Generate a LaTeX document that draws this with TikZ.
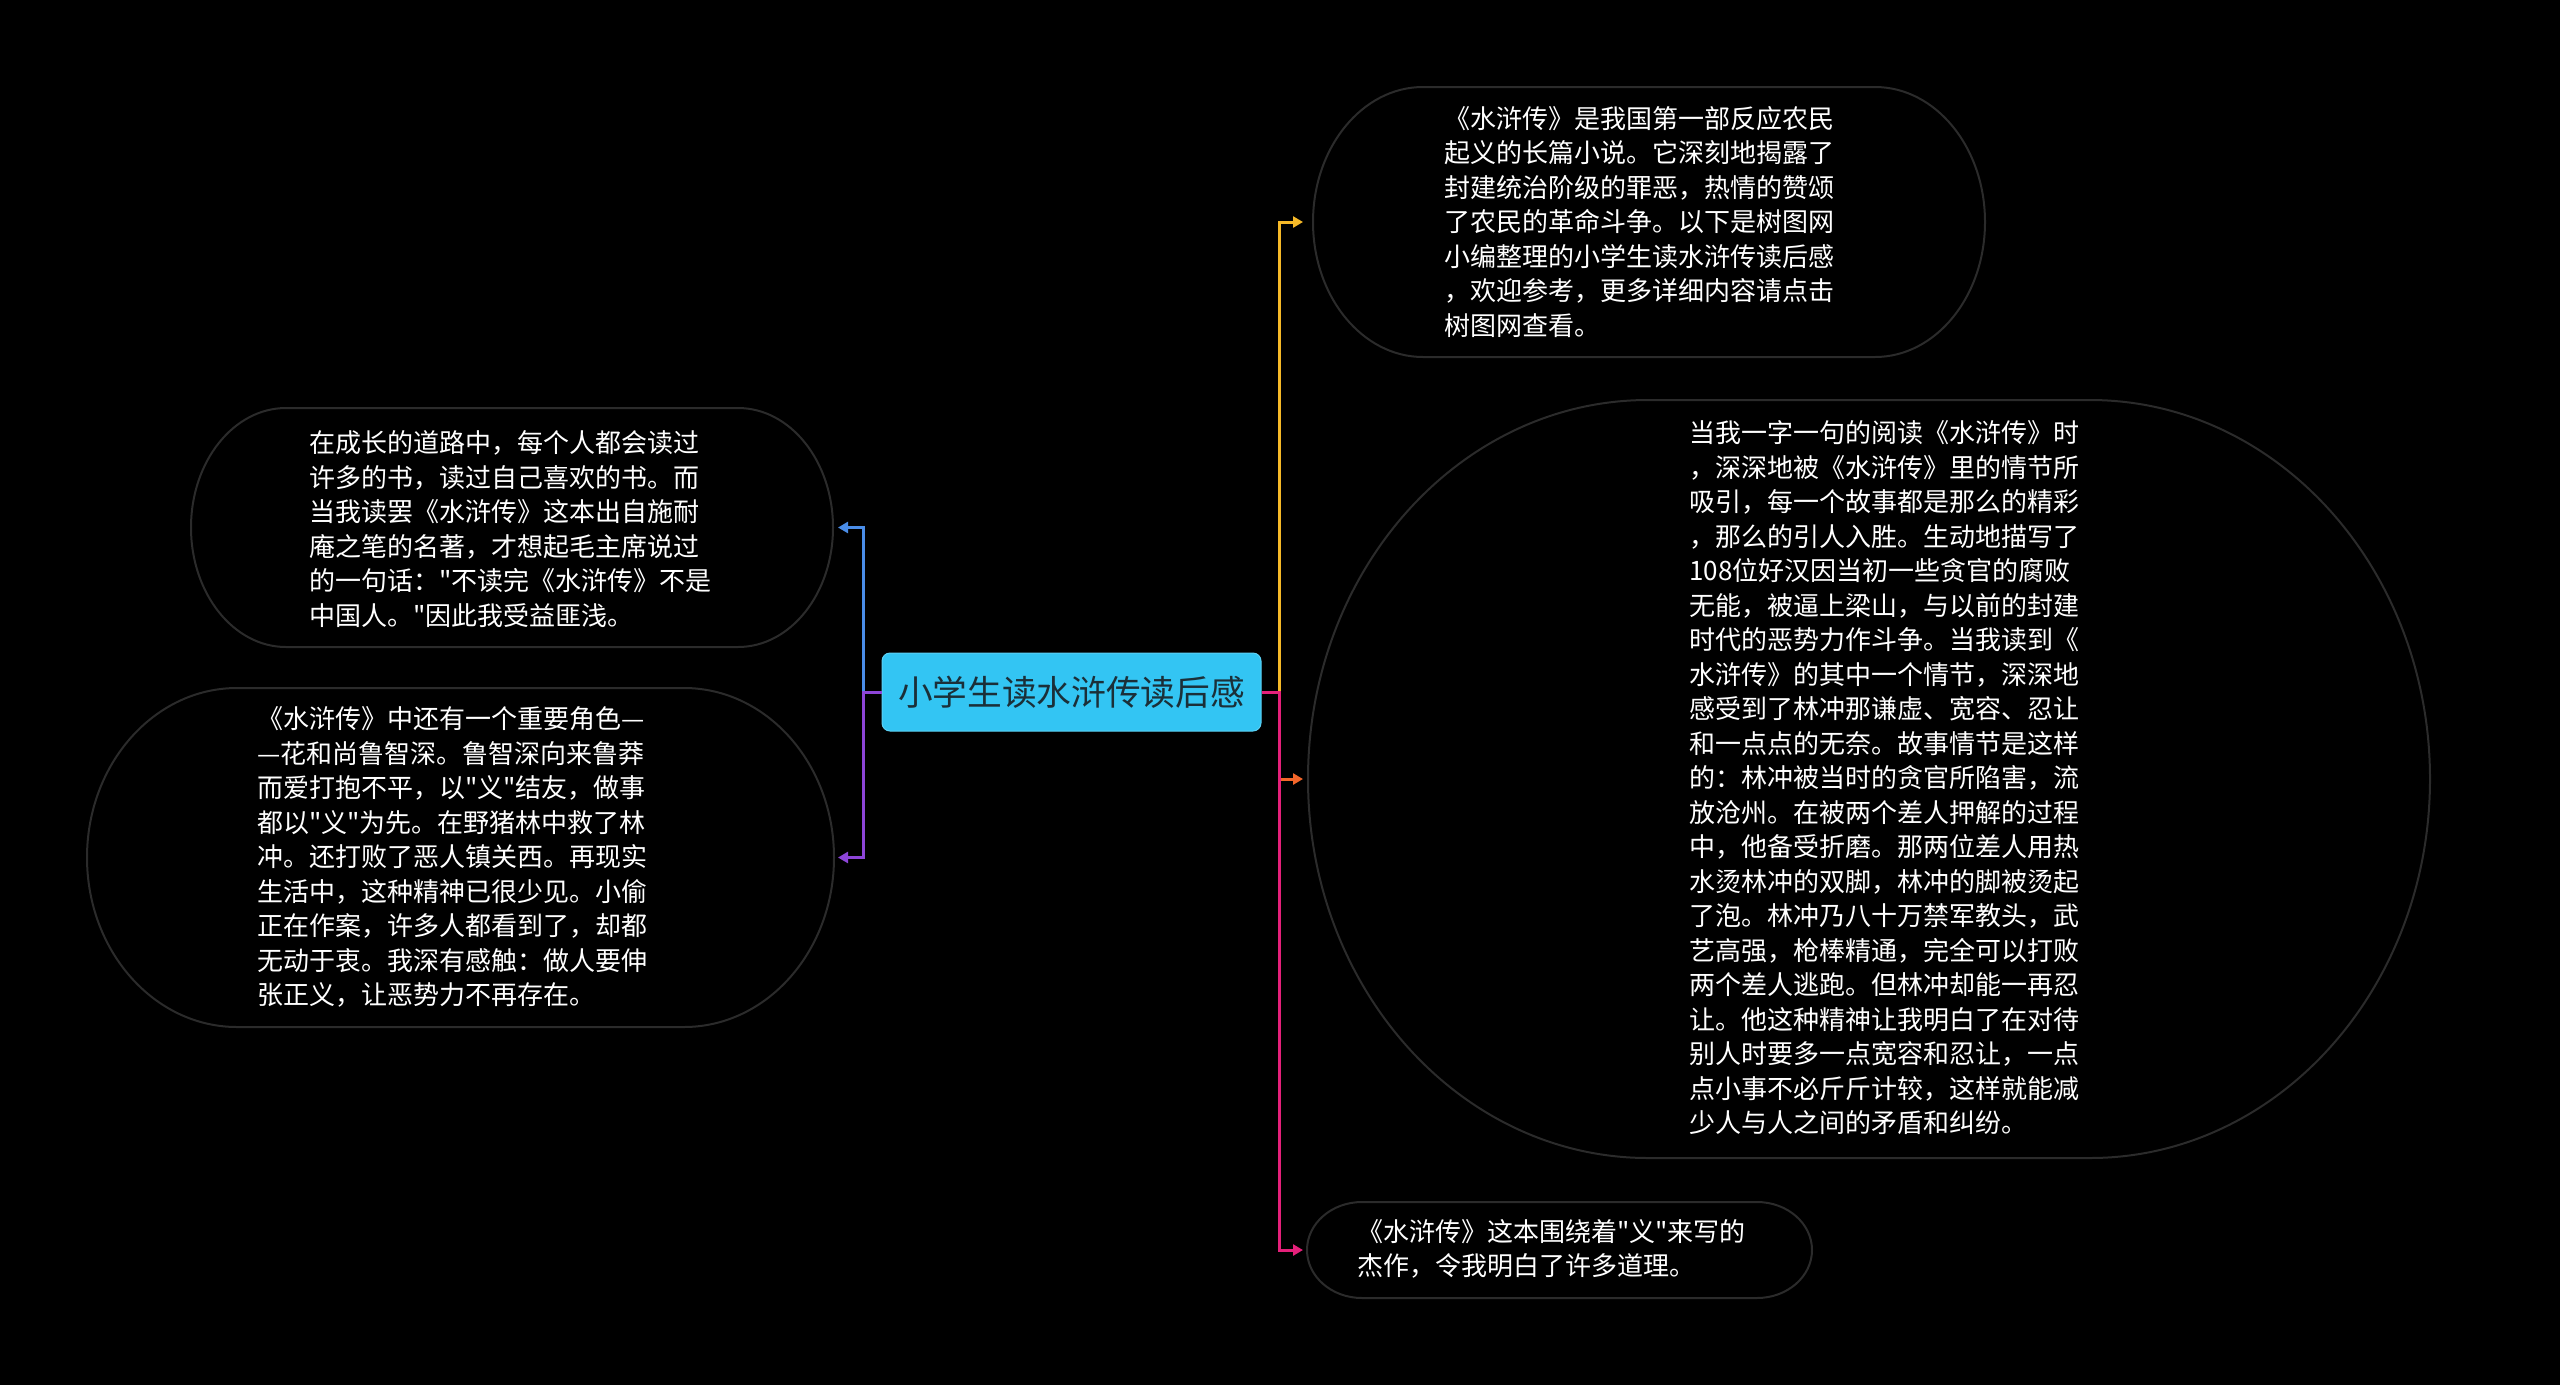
\documentclass[tikz,border=0pt]{standalone}
\usetikzlibrary{arrows.meta}
\font\bodyf="Noto Sans CJK SC" at 26pt
\font\rootf="Noto Sans CJK SC" at 34.7pt
\newcommand\bodyfont{\bodyf\baselineskip=34.5pt\relax}
\newcommand\smallbodyfont{\bodyf\baselineskip=33.5pt\relax}
\definecolor{rootblue}{HTML}{33C5F3}
\definecolor{roottext}{HTML}{1B2F38}
\definecolor{framegray}{HTML}{2B2B2B}
\definecolor{cyel}{HTML}{F6B928}
\definecolor{corange}{HTML}{F3662A}
\definecolor{cpink}{HTML}{E5207A}
\definecolor{cblue}{HTML}{4A8DE8}
\definecolor{cpurple}{HTML}{8D45D8}
\newcommand\ovalframe[3]{%
  \draw[frame] ([xshift=#2]#1.north west) -- ([xshift=-#2]#1.north east)
    arc[start angle=90,end angle=-90,x radius=#2,y radius=#3]
    -- ([xshift=#2]#1.south west)
    arc[start angle=270,end angle=90,x radius=#2,y radius=#3] -- cycle;}
\begin{document}
\begin{tikzpicture}[x=1pt,y=-1pt,
  box/.style={draw=none,rectangle,inner sep=0pt,outer sep=0pt},
  frame/.style={draw=framegray,line width=2pt},
  txt/.style={text=white,font=\bodyfont,align=left,inner sep=0pt,anchor=west},
  link/.style={line width=3pt,-{Triangle[length=10pt,width=11pt]}},
  root/.style={fill=rootblue,draw=rootblue!80!white,line width=1pt,rounded corners=8pt,
    minimum width=379pt,minimum height=78pt,text=roottext,
    font=\rootf,inner sep=0pt}]
\fill[black] (0,0) rectangle (2560,1385);
\useasboundingbox (0,0) rectangle (2560,1385);

% central topic
\node[root] (root) at (1071.5,692) {小学生读水浒传读后感};
\coordinate (rs) at (1279,692);
\coordinate (ls) at (863,692);

% frames (boxes)
\node[box,minimum width=672pt,minimum height=270pt] (n1) at (1649,222) {};
\node[box,minimum width=1122pt,minimum height=758pt] (n2) at (1869,779) {};
\node[box,minimum width=505pt,minimum height=96pt] (n3) at (1559.5,1250) {};
\node[box,minimum width=642pt,minimum height=239pt] (nA) at (512,527.5) {};
\node[box,minimum width=747pt,minimum height=339pt] (nB) at (460.5,857.5) {};
\ovalframe{n1}{110pt}{135pt}
\ovalframe{n2}{340pt}{379pt}
\ovalframe{n3}{55pt}{48pt}
\ovalframe{nA}{95pt}{119.5pt}
\ovalframe{nB}{150pt}{169.5pt}

% texts
\node[txt] (t1) at (1444,222) {《水浒传》是我国第一部反应农民\\起义的长篇小说。它深刻地揭露了\\封建统治阶级的罪恶，热情的赞颂\\了农民的革命斗争。以下是树图网\\小编整理的小学生读水浒传读后感\\，欢迎参考，更多详细内容请点击\\树图网查看。};
\node[txt] (t2) at (1689,778) {当我一字一句的阅读《水浒传》时\\，深深地被《水浒传》里的情节所\\吸引，每一个故事都是那么的精彩\\，那么的引人入胜。生动地描写了\\108位好汉因当初一些贪官的腐败\\无能，被逼上梁山，与以前的封建\\时代的恶势力作斗争。当我读到《\\水浒传》的其中一个情节，深深地\\感受到了林冲那谦虚、宽容、忍让\\和一点点的无奈。故事情节是这样\\的：林冲被当时的贪官所陷害，流\\放沧州。在被两个差人押解的过程\\中，他备受折磨。那两位差人用热\\水烫林冲的双脚，林冲的脚被烫起\\了泡。林冲乃八十万禁军教头，武\\艺高强，枪棒精通，完全可以打败\\两个差人逃跑。但林冲却能一再忍\\让。他这种精神让我明白了在对待\\别人时要多一点宽容和忍让，一点\\点小事不必斤斤计较，这样就能减\\少人与人之间的矛盾和纠纷。};
\node[txt,font=\smallbodyfont] (t3) at (1357,1249) {《水浒传》这本围绕着"义"来写的\\杰作，令我明白了许多道理。};
\node[txt] (tA) at (309,529) {在成长的道路中，每个人都会读过\\许多的书，读过自己喜欢的书。而\\当我读罢《水浒传》这本出自施耐\\庵之笔的名著，才想起毛主席说过\\的一句话："不读完《水浒传》不是\\中国人。"因此我受益匪浅。};
\node[txt] (tB) at (257,857) {《水浒传》中还有一个重要角色—\\—花和尚鲁智深。鲁智深向来鲁莽\\而爱打抱不平，以"义"结友，做事\\都以"义"为先。在野猪林中救了林\\冲。还打败了恶人镇关西。再现实\\生活中，这种精神已很少见。小偷\\正在作案，许多人都看到了，却都\\无动于衷。我深有感触：做人要伸\\张正义，让恶势力不再存在。};

% connectors
\draw[link,cyel] (root.east) -- (rs) |- ([xshift=-10pt]n1.west);
\draw[link,corange] (root.east) -- (rs) |- ([xshift=-5pt]n2.west);
\draw[link,cpink] (root.east) -- (rs) |- ([xshift=-4pt]n3.west);
\draw[link,cblue] (root.west) -- (ls) |- ([xshift=5pt]nA.east);
\draw[link,cpurple] (root.west) -- (ls) |- ([xshift=4pt]nB.east);
\end{tikzpicture}
\end{document}
